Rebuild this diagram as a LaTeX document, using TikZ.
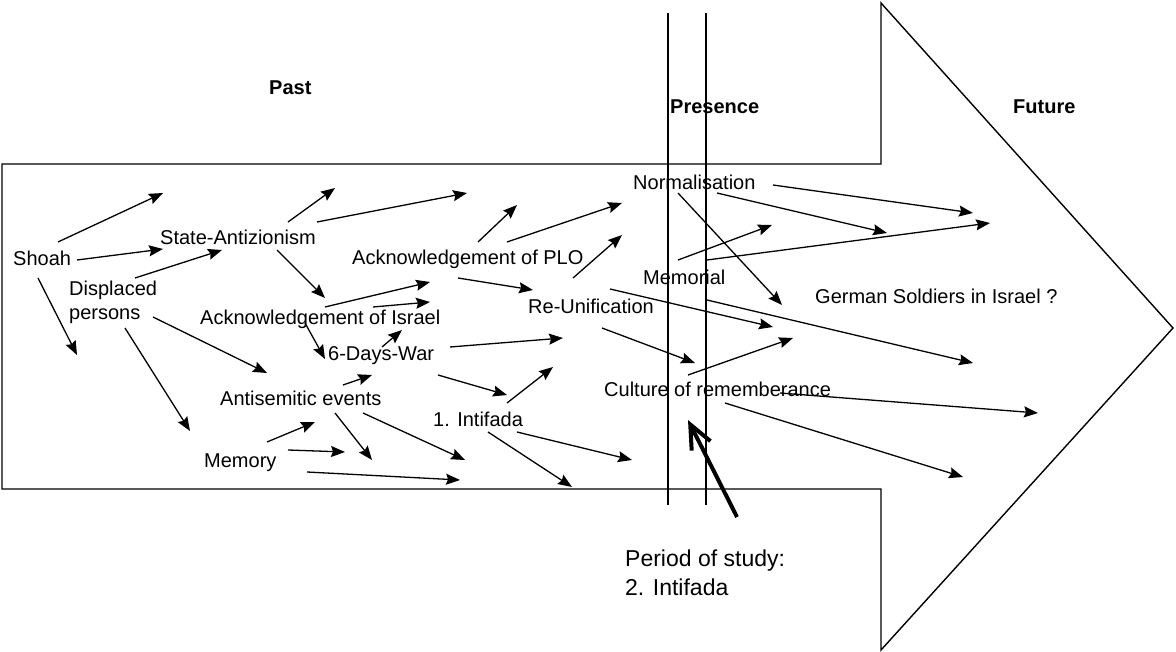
\documentclass[tikz,border=0pt]{standalone}
\usepackage{fontspec}
\setmainfont{Liberation Sans}
\usetikzlibrary{arrows.meta}
\begin{document}
\begin{tikzpicture}[x=1pt,y=-1pt,
  lbl/.style={anchor=base west, inner sep=0pt, font=\fontsize{20}{24}\selectfont},
  ttl/.style={anchor=base west, inner sep=0pt, font=\fontsize{20}{24}\selectfont\bfseries},
  arr/.style={line width=1.3pt, -{Stealth[length=14pt,width=11pt,inset=2pt]}},
  bigarr/.style={line width=4pt, -{Straight Barb[length=24pt,width=21pt]}},
  outline/.style={line width=1.4pt, line join=miter},
  divider/.style={line width=1.3pt}]
\useasboundingbox (0,0) rectangle (1176,652);
% big arrow outline
\draw[outline] (2,164) -- (881,164) -- (881,3) -- (1173,328) -- (881,650) -- (881,489) -- (2,489) -- cycle;
% presence lines
\coordinate (p1t) at (668,13); \coordinate (p1b) at (668,505);
\coordinate (p2t) at (706,13); \coordinate (p2b) at (706,505);
\draw[divider] (p1t) -- (p1b);
\draw[divider] (p2t) -- (p2b);
% thin arrows
\foreach \i/\a/\b/\c/\d in {
 1/58/242/163/193, 2/77/260/163/249, 3/135/278/222/250, 4/38/278/77/355,
 5/125/328/190/431, 6/153/317/267/373, 7/288/222/335/188, 8/317/222/467/193,
 9/277/250/325/298, 10/325/307/430/282, 11/373/307/430/302, 12/305/323/325/359,
 13/382/347/402/330, 14/450/347/563/338, 15/478/242/517/205, 16/507/242/622/203,
 17/573/278/622/235, 18/458/278/533/290, 19/610/289/773/327, 20/602/328/695/363,
 21/678/193/782/305, 22/773/185/973/213, 23/717/193/887/233, 24/707/260/990/223,
 25/678/260/772/225, 26/707/300/973/363, 27/688/375/793/338, 28/780/393/1038/413,
 29/725/403/963/477, 30/517/432/632/460, 31/488/432/572/487, 32/507/403/553/367,
 33/438/375/507/395, 34/343/385/372/375, 35/335/413/372/460, 36/363/413/465/460,
 37/267/442/315/422, 38/288/450/345/452, 39/307/472/460/480}{
  \coordinate (s\i) at (\a,\b);
  \coordinate (e\i) at (\c,\d);
  \draw[arr] (s\i) -- (e\i);
}
% study arrow
\coordinate (studytail) at (737,517);
\coordinate (studytip) at (688,420);
\draw[bigarr] (studytail) -- (studytip);
% titles
\node[ttl] (past) at (269,95) {Past};
\node[ttl] (presence) at (670,114) {Presence};
\node[ttl] (future) at (1013,114) {Future};
% labels
\node[lbl] (norm) at (633,190) {Normalisation};
\node[lbl] (shoah) at (13,266) {Shoah};
\node[lbl] (state) at (160,245) {State-Antizionism};
\node[lbl, align=left, anchor=north west] (displaced) at (69,281) {Displaced\\persons};
\node[lbl] (plo) at (352,265) {Acknowledgement of PLO};
\node[lbl] (memorial) at (643,285) {Memorial};
\node[lbl] (israel) at (200,325) {Acknowledgement of Israel};
\node[lbl] (reunif) at (528,314) {Re-Unification};
\node[lbl] (german) at (815,304) {German Soldiers in Israel ?};
\node[lbl] (sixdays) at (328,361) {6-Days-War};
\node[lbl] (culture) at (604,396) {Culture of rememberance};
\node[lbl] (antisem) at (220,406) {Antisemitic events};
\node[lbl] (intifada) at (433,426) {1. Intifada};
\node[lbl] (memory) at (204,467) {Memory};
\node[lbl, font=\fontsize{23}{29}\selectfont, align=left, anchor=north west] (study) at (625,550) {Period of study:\\2. Intifada};
\end{tikzpicture}
\end{document}
